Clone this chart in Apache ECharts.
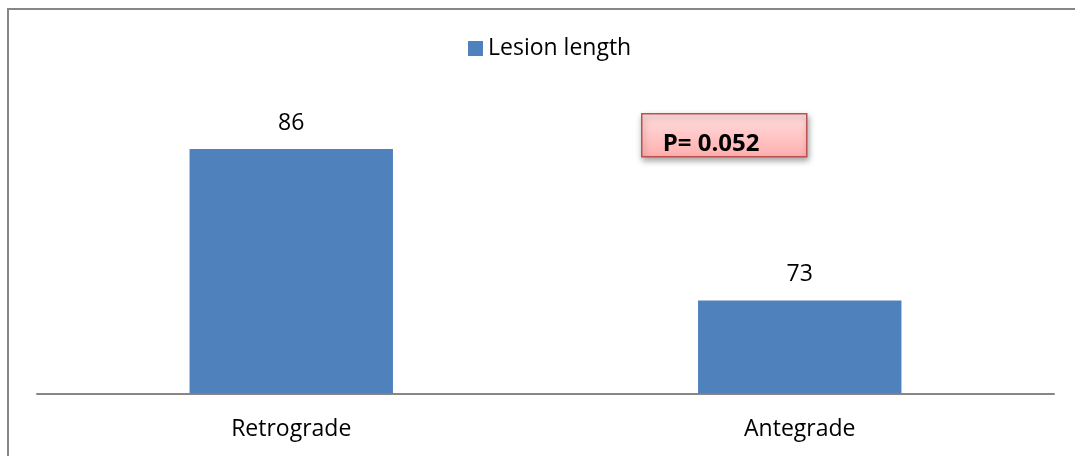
<!DOCTYPE html>
<html>
<head>
<meta charset="utf-8">
<script src="https://cdn.jsdelivr.net/npm/echarts@6/dist/echarts.min.js"></script>
<style>
  html, body { margin: 0; padding: 0; background: #fff; overflow: hidden; }
  #chart { width: 1075px; height: 456px; }
</style>
</head>
<body>
<div id="chart"></div>
<script>
// Mean lesion length by approach
const categories = ['Retrograde', 'Antegrade'];
const seriesName = 'Lesion length';
const lesionLength = [86, 73];
const pValueText = 'P= 0.052';

const FONT = '"Open Sans", Lato, sans-serif';

const chart = echarts.init(document.getElementById('chart'), null, { renderer: 'canvas' });

chart.setOption({
  animation: false,
  backgroundColor: '#ffffff',
  legend: {
    data: [seriesName],
    top: 37,
    left: 468,
    padding: 0,
    itemWidth: 15,
    itemHeight: 15,
    icon: 'rect',
    textStyle: { fontFamily: FONT, fontSize: 23, color: '#000' }
  },
  grid: { left: 37, right: 21, top: 102.5, bottom: 62.5 },
  xAxis: {
    type: 'category',
    data: categories,
    axisLine: { show: true, lineStyle: { color: '#868686', width: 2 } },
    axisTick: { show: false },
    axisLabel: { fontFamily: FONT, fontSize: 23, color: '#000', margin: 24 }
  },
  yAxis: {
    type: 'value',
    min: 65,
    max: 90,
    show: false,
    splitLine: { show: false }
  },
  series: [{
    name: seriesName,
    type: 'bar',
    data: lesionLength,
    barWidth: '40%',
    itemStyle: { color: '#4F81BD' },
    label: {
      show: true,
      position: 'top',
      distance: 14,
      fontFamily: FONT,
      fontSize: 23,
      color: '#000'
    }
  }],
  graphic: [
    {
      // chart-area frame, left edge
      type: 'line',
      shape: { x1: 8, y1: 8, x2: 8, y2: 456 },
      style: { stroke: '#868686', lineWidth: 2 },
      silent: true
    },
    {
      // chart-area frame, top edge
      type: 'line',
      shape: { x1: 7, y1: 9, x2: 1075, y2: 9 },
      style: { stroke: '#868686', lineWidth: 2 },
      silent: true
    },
    {
      type: 'group',
      left: 641,
      top: 113,
      children: [
        {
          type: 'rect',
          shape: { x: 0, y: 0, width: 165, height: 43 },
          style: {
            fill: new echarts.graphic.LinearGradient(0, 0, 0, 1, [
              { offset: 0, color: '#FFDEDE' },
              { offset: 1, color: '#FFAFAF' }
            ]),
            stroke: '#C0504D',
            lineWidth: 1.5,
            shadowBlur: 6,
            shadowOffsetX: 1,
            shadowOffsetY: 3,
            shadowColor: 'rgba(0,0,0,0.35)'
          }
        },
        {
          type: 'text',
          x: 21,
          y: 30,
          style: {
            text: pValueText,
            fontFamily: FONT,
            fontWeight: 'bold',
            fontSize: 24,
            fill: '#000',
            textVerticalAlign: 'middle'
          }
        }
      ]
    }
  ]
});
</script>
</body>
</html>
